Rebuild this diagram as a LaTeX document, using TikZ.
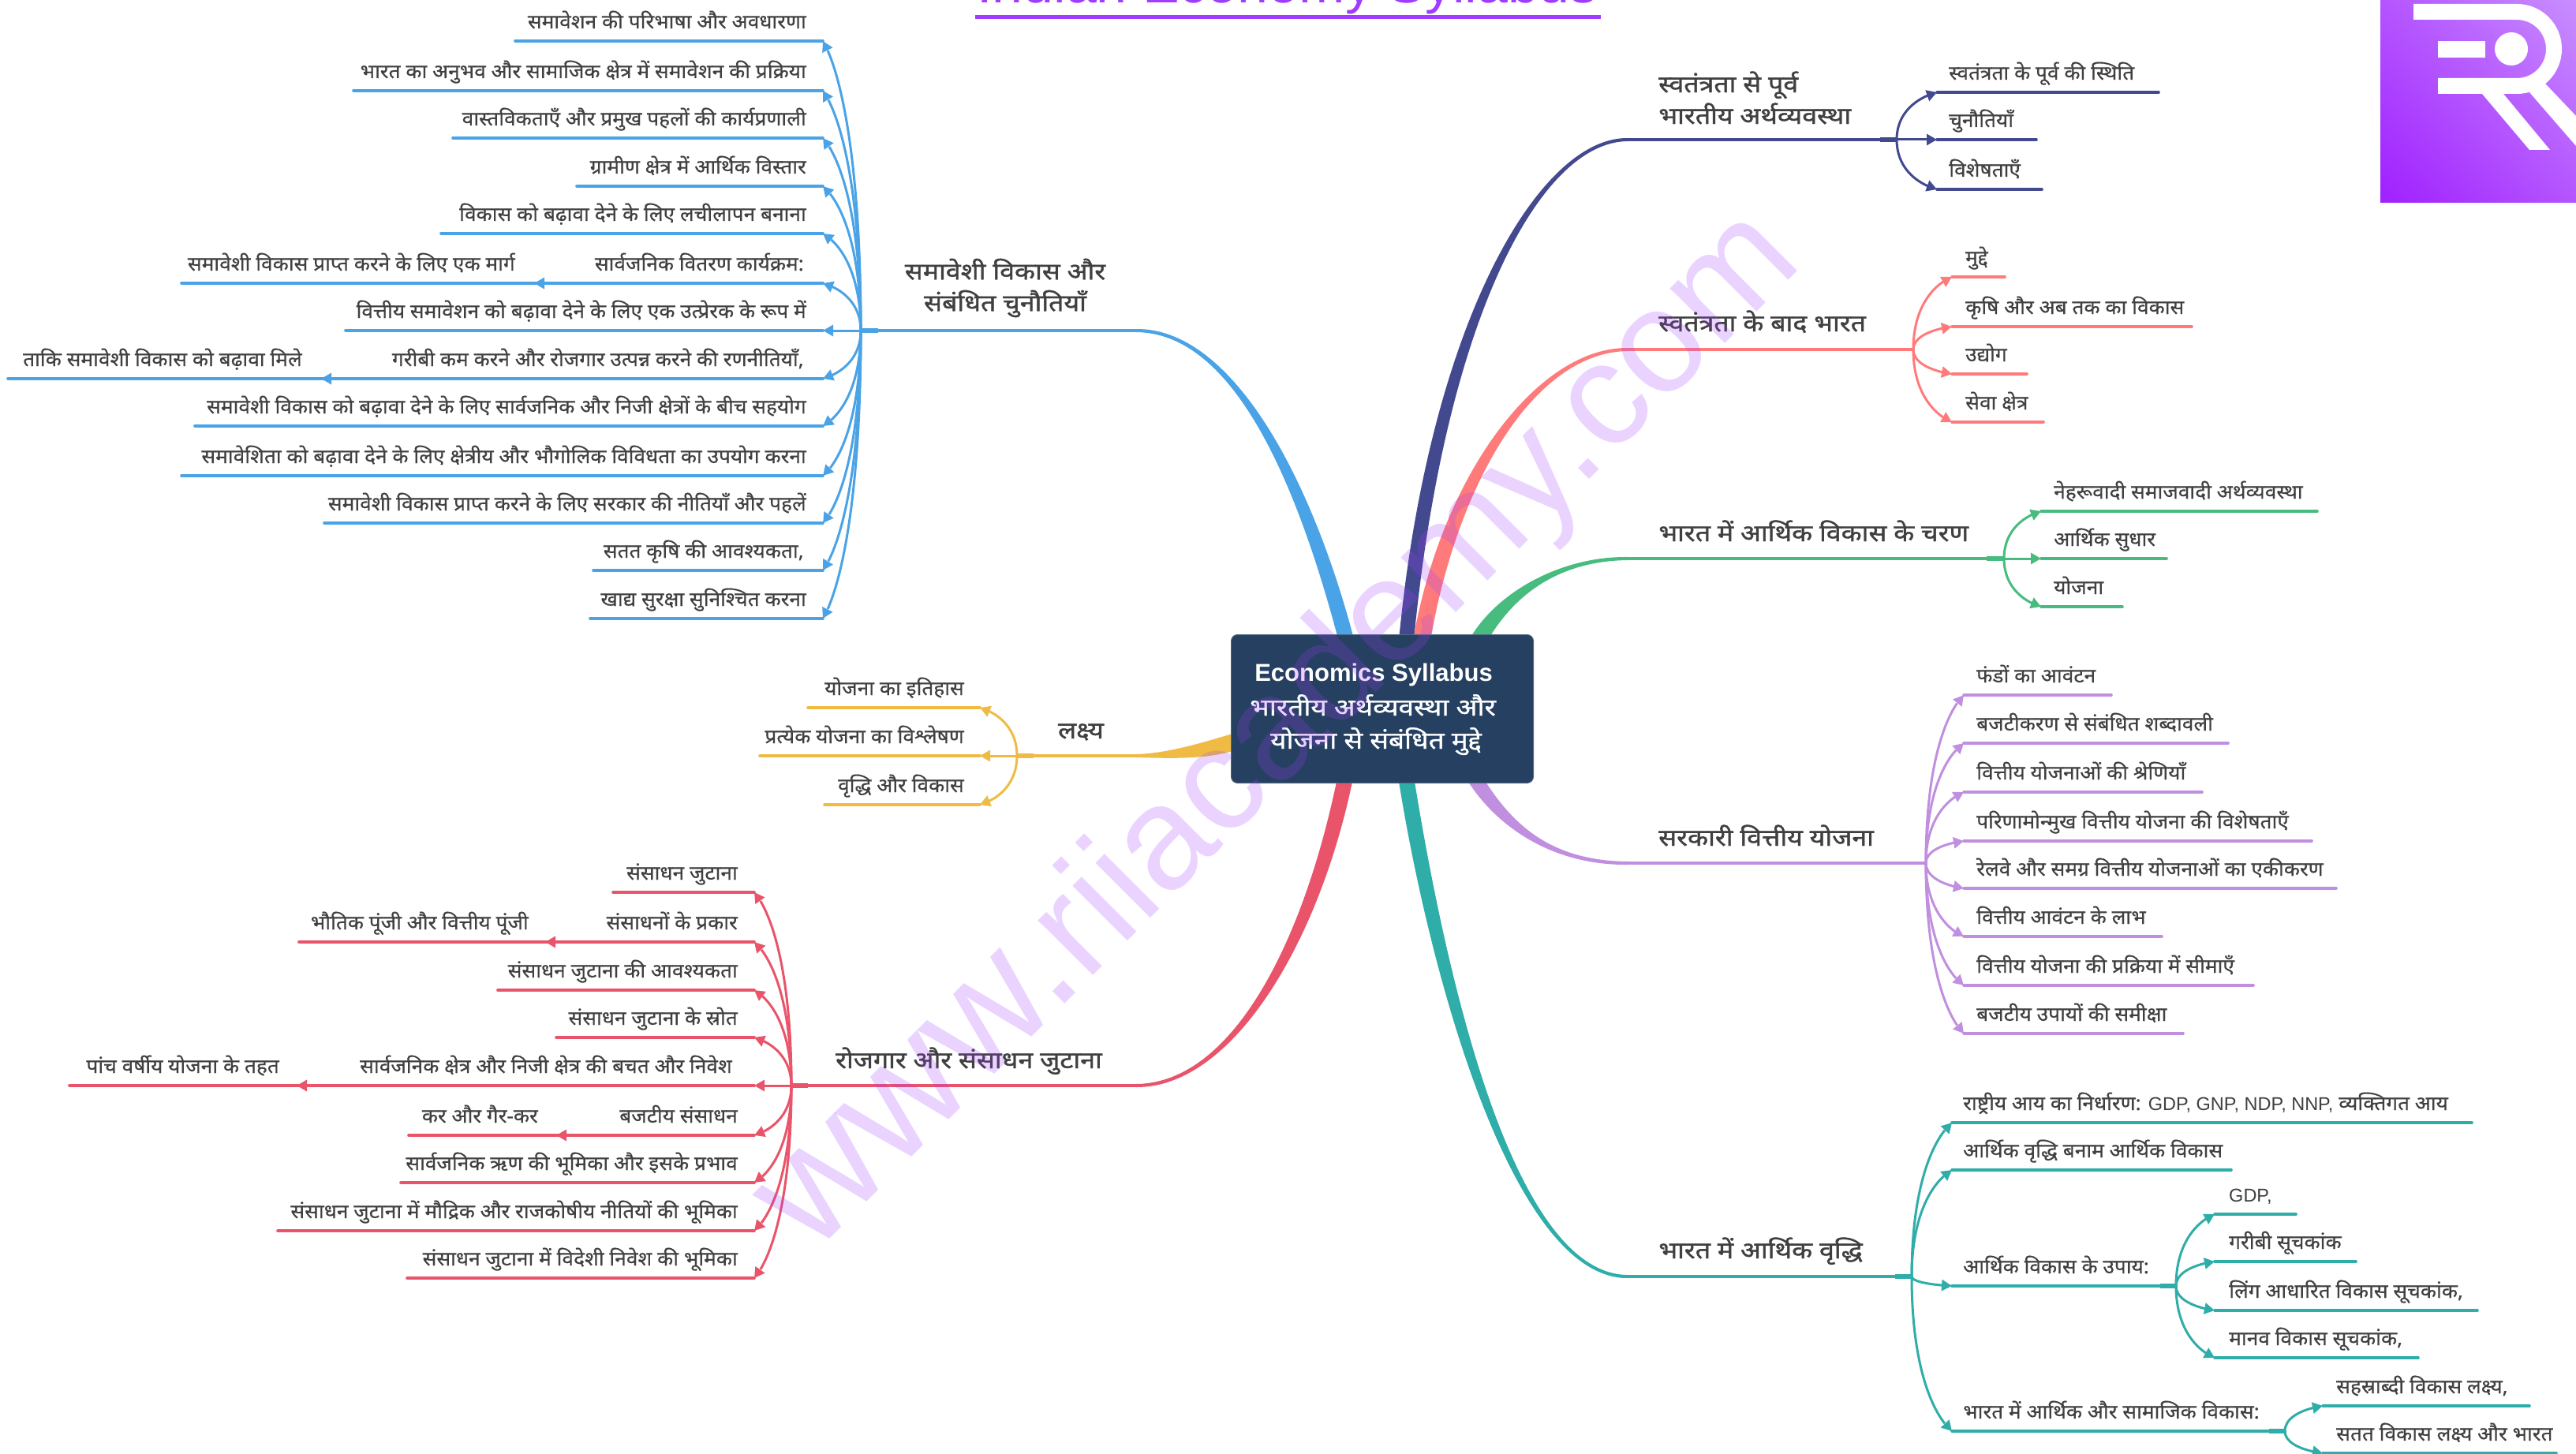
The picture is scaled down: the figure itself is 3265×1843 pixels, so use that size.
\documentclass[tikz,border=0pt]{standalone}
\usepackage{fontspec}
\setmainfont{Liberation Sans}
\newfontfamily\dev[Script=Devanagari,FakeStretch=1.05,FakeBold=0.4]{Noto Sans}
\newfontfamily\devb[Script=Devanagari,FakeStretch=1.15,FakeBold=1.3]{Noto Sans}
\newfontfamily\devc[Script=Devanagari,FakeStretch=1.17,FakeBold=1.0]{Noto Sans}
\newfontfamily\latf{Liberation Sans}
\newcommand\lat[1]{{\latf\fontsize{23.5}{28}\selectfont #1}}
\usetikzlibrary{calc,arrows.meta,bending,shadings}
\definecolor{cblue}{HTML}{4AA3E6}
\definecolor{cnavy}{HTML}{43498F}
\definecolor{ccoral}{HTML}{FF7B7B}
\definecolor{cgreen}{HTML}{48BB7E}
\definecolor{cpurple}{HTML}{C08FE0}
\definecolor{cteal}{HTML}{2FADA9}
\definecolor{cred}{HTML}{E9546A}
\definecolor{cyellow}{HTML}{EFBB45}
\definecolor{cbox}{HTML}{254060}
\definecolor{ctitle}{HTML}{A03CFF}
\definecolor{ctext}{HTML}{404040}
\definecolor{lgll}{HTML}{A020FF}
\definecolor{lgur}{HTML}{C88EFF}
\definecolor{lgm}{HTML}{B454FF}
\tikzset{
  x=1pt,y=-1pt,
  leaf/.style={inner sep=0pt,text=ctext,font=\dev\fontsize{25}{28}\selectfont},
  head/.style={inner sep=0pt,text=ctext,font=\devb\fontsize{29.5}{40}\selectfont,align=center},
  uline/.style={line width=3.6pt,draw=\cc,line cap=round},
  bar/.style={line width=5.5pt,draw=\cc},
  crv/.style={line width=3pt,draw=\cc,-{Triangle[length=13pt,width=14pt,flex=1]},fill=none},
  tipline/.style={line width=3.6pt,draw=\cc,-{Triangle[length=13pt,width=14pt]}},
}
% right-hand and left-hand leaves: colour in \cc
\newcommand\curve[2]{\draw[crv] (#1) let \p1=(#1),\p2=(#2),\n1={\x2-\x1},\n2={\y2-\y1} in .. controls (\x1,{\y1+0.6*\n2}) and ({\x1+0.55*\n1},{\y2-0.1*\n2}) .. (#2);}
% {hub}{name}{tipx}{endx}{y}{textx}{text}
\newcommand\rleaf[7]{%
  \coordinate (#2a) at (#3,#5); \coordinate (#2b) at (#4,#5);
  \node[leaf,anchor=base west] (#2) at (#6,#5-16) {#7};
  \draw[uline] (#2a) -- (#2b);
  \curve{#1}{#2a}}
\newcommand\lleaf[7]{%
  \coordinate (#2a) at (#3,#5); \coordinate (#2b) at (#4,#5);
  \node[leaf,anchor=base east] (#2) at (#6,#5-16) {#7};
  \draw[uline] (#2a) -- (#2b);
  \curve{#1}{#2a}}
% {parent}{name}{tipx}{endx}{y}{textright}{text}
\newcommand\lsub[7]{%
  \coordinate (#2a) at (#3,#5); \coordinate (#2b) at (#4,#5);
  \node[leaf,anchor=base east] (#2) at (#6,#5-16) {#7};
  \draw[tipline] (#1a) -- (#2a);
  \draw[uline] (#2a) -- (#2b);}
% {colour}{start}{c1}{c2}{end}{end offset}
\newcommand\trunk[6]{\fill[#1] ($(#2)+(0,-2)$) .. controls ($(#3)+(0,-3)$) and ($(#4)+#6$) .. ($(#5)+#6$) -- ($(#5)-#6$) .. controls ($(#4)-#6$) and ($(#3)+(0,3)$) .. ($(#2)+(0,2)$) -- cycle;}
\begin{document}
\begin{tikzpicture}
\clip (0,0) rectangle (3265,1843);
\fill[white] (0,0) rectangle (3265,1843);

% title
\node[inner sep=0pt,anchor=base west,text=ctitle,font=\fontsize{70}{70}\selectfont] (title) at (1238,4) {Indian Economy Syllabus};
\coordinate (tl) at (1236,22); \coordinate (tr) at (2029,22);
\draw[line width=5pt,ctitle] (tl) -- (tr);

% logo
\shade[shading=bilinear interpolation,lower left=lgll,upper right=lgur,upper left=lgm,lower right=lgm] (3017,0) rectangle (3265,257);
\begin{scope}[white]
\draw[line width=20pt] (3059,15) -- (3190,15) arc[start angle=-90,end angle=90,radius=47] -- (3090,109);
\fill (3090,52) rectangle (3150,73);
\fill (3183,62) circle[radius=21];
\fill (3146,119) -- (3173,119) -- (3232,190) -- (3206,190) -- cycle;
\fill (3226,106) -- (3206,117) -- (3265,185) -- (3265,147) -- cycle;
\end{scope}

% centre anchors of trunks
\coordinate (sblue) at (1440,419);
\coordinate (snavy) at (2063,177);
\coordinate (scoral) at (2063,443);
\coordinate (sgreen) at (2063,708);
\coordinate (spurple) at (2063,1094);
\coordinate (steal) at (2063,1618);
\coordinate (sred) at (1440,1376);
\coordinate (syellow) at (1440,958);

\trunk{cblue}{sblue}{1560,419}{1650,600}{1705,806}{(10,0)}
\trunk{cnavy}{snavy}{1950,177}{1822,410}{1783,806}{(-9.5,0)}
\trunk{ccoral}{scoral}{1950,443}{1840,600}{1803,806}{(-11,0)}
\trunk{cgreen}{sgreen}{1985,708}{1915,745}{1877,806}{(-12,0)}
\trunk{cpurple}{spurple}{1970,1094}{1910,1050}{1872,991}{(11,0)}
\trunk{cteal}{steal}{1920,1618}{1825,1250}{1783,991}{(10,0)}
\trunk{cred}{sred}{1560,1376}{1660,1200}{1704,991}{(-10,0)}
\trunk{cyellow}{syellow}{1480,958}{1525,952}{1562,941}{(0,-11)}

% ---------- blue
\def\cc{cblue}
\coordinate (hblue) at (1091,419);
\draw[uline] (sblue) -- (hblue);
\draw[bar] (1113,419) -- (hblue);
\lleaf{hblue}{b1}{1043}{653}{52}{1022}{समावेशन की परिभाषा और अवधारणा}
\lleaf{hblue}{b2}{1043}{448}{115}{1022}{भारत का अनुभव और सामाजिक क्षेत्र में समावेशन की प्रक्रिया}
\lleaf{hblue}{b3}{1043}{574}{175}{1022}{वास्तविकताएँ और प्रमुख पहलों की कार्यप्रणाली}
\lleaf{hblue}{b4}{1043}{731}{236}{1022}{ग्रामीण क्षेत्र में आर्थिक विस्तार}
\lleaf{hblue}{b5}{1043}{559}{296}{1022}{विकास को बढ़ावा देने के लिए लचीलापन बनाना}
\lleaf{hblue}{b6}{1043}{677}{359}{1019}{सार्वजनिक वितरण कार्यक्रम:}
\lsub{b6}{b6s}{677}{230}{359}{653}{समावेशी विकास प्राप्त करने के लिए एक मार्ग}
\lleaf{hblue}{b7}{1043}{438}{419}{1022}{वित्तीय समावेशन को बढ़ावा देने के लिए एक उत्प्रेरक के रूप में}
\lleaf{hblue}{b8}{1043}{407}{480}{1019}{गरीबी कम करने और रोजगार उत्पन्न करने की रणनीतियाँ,}
\lsub{b8}{b8s}{407}{10}{480}{383}{ताकि समावेशी विकास को बढ़ावा मिले}
\lleaf{hblue}{b9}{1043}{247}{540}{1022}{समावेशी विकास को बढ़ावा देने के लिए सार्वजनिक और निजी क्षेत्रों के बीच सहयोग}
\lleaf{hblue}{b10}{1043}{230}{603}{1022}{समावेशिता को बढ़ावा देने के लिए क्षेत्रीय और भौगोलिक विविधता का उपयोग करना}
\lleaf{hblue}{b11}{1043}{411}{663}{1022}{समावेशी विकास प्राप्त करने के लिए सरकार की नीतियाँ और पहलें}
\lleaf{hblue}{b12}{1043}{752}{723}{1019}{सतत कृषि की आवश्यकता,}
\lleaf{hblue}{b13}{1043}{748}{784}{1022}{खाद्य सुरक्षा सुनिश्चित करना}
\node[head] (hdblue) at (1274,365) {समावेशी विकास और\\संबंधित चुनौतियाँ};

% ---------- yellow
\def\cc{cyellow}
\coordinate (hyellow) at (1289,958);
\draw[uline] (syellow) -- (hyellow);
\draw[bar] (1310,958) -- (hyellow);
\lleaf{hyellow}{y1}{1242}{1024}{897}{1222}{योजना का इतिहास}
\lleaf{hyellow}{y2}{1242}{963}{958}{1222}{प्रत्येक योजना का विश्लेषण}
\lleaf{hyellow}{y3}{1242}{1045}{1020}{1222}{वृद्धि और विकास}
\node[head,anchor=base] (hdyellow) at (1370,936) {लक्ष्य};

% ---------- red
\def\cc{cred}
\coordinate (hred) at (1003,1376);
\draw[uline] (sred) -- (hred);
\draw[bar] (1024,1376) -- (hred);
\lleaf{hred}{r1}{956}{777}{1131}{935}{संसाधन जुटाना}
\lleaf{hred}{r2}{956}{691}{1194}{935}{संसाधनों के प्रकार}
\lsub{r2}{r2s}{691}{379}{1194}{670}{भौतिक पूंजी और वित्तीय पूंजी}
\lleaf{hred}{r3}{956}{631}{1255}{935}{संसाधन जुटाना की आवश्यकता}
\lleaf{hred}{r4}{956}{705}{1315}{935}{संसाधन जुटाना के स्रोत}
\lleaf{hred}{r5}{956}{376}{1376}{928}{सार्वजनिक क्षेत्र और निजी क्षेत्र की बचत और निवेश}
\lsub{r5}{r5s}{376}{88}{1376}{354}{पांच वर्षीय योजना के तहत}
\lleaf{hred}{r6}{956}{705}{1439}{935}{बजटीय संसाधन}
\lsub{r6}{r6s}{705}{518}{1439}{682}{कर और गैर-कर}
\lleaf{hred}{r7}{956}{508}{1499}{935}{सार्वजनिक ऋण की भूमिका और इसके प्रभाव}
\lleaf{hred}{r8}{956}{352}{1560}{935}{संसाधन जुटाना में मौद्रिक और राजकोषीय नीतियों की भूमिका}
\lleaf{hred}{r9}{956}{516}{1620}{935}{संसाधन जुटाना में विदेशी निवेश की भूमिका}
\node[head,anchor=base east] (hdred) at (1397,1354) {रोजगार और संसाधन जुटाना};

% ---------- navy
\def\cc{cnavy}
\coordinate (hnavy) at (2404,177);
\draw[uline] (snavy) -- (hnavy);
\draw[bar] (2383,177) -- (hnavy);
\rleaf{hnavy}{n1}{2455}{2736}{117}{2470}{स्वतंत्रता के पूर्व की स्थिति}
\rleaf{hnavy}{n2}{2455}{2581}{177}{2470}{चुनौतियाँ}
\rleaf{hnavy}{n3}{2455}{2588}{240}{2470}{विशेषताएँ}
\node[head,anchor=west,align=left] (hdnavy) at (2102,124) {स्वतंत्रता से पूर्व\\भारतीय अर्थव्यवस्था};

% ---------- coral
\def\cc{ccoral}
\coordinate (hcoral) at (2425,443);
\draw[uline] (scoral) -- (hcoral);
\rleaf{hcoral}{c1}{2474}{2541}{351}{2491}{मुद्दे}
\rleaf{hcoral}{c2}{2474}{2778}{414}{2491}{कृषि और अब तक का विकास}
\rleaf{hcoral}{c3}{2474}{2569}{474}{2491}{उद्योग}
\rleaf{hcoral}{c4}{2474}{2590}{535}{2491}{सेवा क्षेत्र}
\node[head,anchor=base west] (hdcoral) at (2102,420) {स्वतंत्रता के बाद भारत};

% ---------- green
\def\cc{cgreen}
\coordinate (hgreen) at (2540,708);
\draw[uline] (sgreen) -- (hgreen);
\draw[bar] (2518,708) -- (hgreen);
\rleaf{hgreen}{g1}{2587}{2937}{648}{2603}{नेहरूवादी समाजवादी अर्थव्यवस्था}
\rleaf{hgreen}{g2}{2587}{2746}{708}{2603}{आर्थिक सुधार}
\rleaf{hgreen}{g3}{2587}{2690}{769}{2603}{योजना}
\node[head,anchor=base west] (hdgreen) at (2102,686) {भारत में आर्थिक विकास के चरण};

% ---------- purple
\def\cc{cpurple}
\coordinate (hpurple) at (2441,1094);
\draw[uline] (spurple) -- (hpurple);
\rleaf{hpurple}{p1}{2489}{2676}{881}{2505}{फंडों का आवंटन}
\rleaf{hpurple}{p2}{2489}{2824}{942}{2505}{बजटीकरण से संबंधित शब्दावली}
\rleaf{hpurple}{p3}{2489}{2791}{1004}{2505}{वित्तीय योजनाओं की श्रेणियाँ}
\rleaf{hpurple}{p4}{2489}{2930}{1066}{2505}{परिणामोन्मुख वित्तीय योजना की विशेषताएँ}
\rleaf{hpurple}{p5}{2489}{2961}{1126}{2505}{रेलवे और समग्र वित्तीय योजनाओं का एकीकरण}
\rleaf{hpurple}{p6}{2489}{2740}{1187}{2505}{वित्तीय आवंटन के लाभ}
\rleaf{hpurple}{p7}{2489}{2856}{1249}{2505}{वित्तीय योजना की प्रक्रिया में सीमाएँ}
\rleaf{hpurple}{p8}{2489}{2767}{1310}{2505}{बजटीय उपायों की समीक्षा}
\node[head,anchor=base west] (hdpurple) at (2102,1072) {सरकारी वित्तीय योजना};

% ---------- teal
\def\cc{cteal}
\coordinate (hteal) at (2423,1618);
\draw[uline] (steal) -- (hteal);
\draw[bar] (2402,1618) -- (hteal);
\rleaf{hteal}{t1}{2474}{3133}{1423}{2488}{राष्ट्रीय आय का निर्धारण: \lat{GDP, GNP, NDP, NNP,} व्यक्तिगत आय}
\rleaf{hteal}{t2}{2474}{2828}{1483}{2488}{आर्थिक वृद्धि बनाम आर्थिक विकास}
\rleaf{hteal}{t3}{2474}{2758}{1630}{2488}{आर्थिक विकास के उपाय:}
\rleaf{hteal}{t4}{2474}{2896}{1814}{2488}{भारत में आर्थिक और सामाजिक विकास:}
\coordinate (htb) at (2758,1630);
\coordinate (htc) at (2896,1814);
\draw[bar] (2738,1630) -- (htb);
\draw[bar] (2876,1814) -- (htc);
\rleaf{htb}{u1}{2807}{2910}{1539}{2825}{\lat{GDP,}}
\rleaf{htb}{u2}{2807}{2986}{1599}{2825}{गरीबी सूचकांक}
\rleaf{htb}{u3}{2807}{3140}{1661}{2825}{लिंग आधारित विकास सूचकांक,}
\rleaf{htb}{u4}{2807}{3065}{1721}{2825}{मानव विकास सूचकांक,}
\rleaf{htc}{v1}{2944}{3206}{1782}{2961}{सहस्राब्दी विकास लक्ष्य,}
\rleaf{htc}{v2}{2944}{3240}{1842}{2961}{सतत विकास लक्ष्य और भारत}
\node[head,anchor=base west] (hdteal) at (2102,1595) {भारत में आर्थिक वृद्धि};

% ---------- centre
\node[draw=cbox!80!white,line width=1pt,fill=cbox,rounded corners=8pt,minimum width=383pt,minimum height=188pt,inner sep=0pt] (center) at (1752,898.5) {};
\node[inner sep=0pt,text=white,anchor=base,font=\bfseries\fontsize{31}{31}\selectfont] (ctitle1) at (1741,863) {Economics Syllabus};
\node[inner sep=0pt,text=white,anchor=base,font=\devc\fontsize{30}{30}\selectfont] (ctitle2) at (1740,907) {भारतीय अर्थव्यवस्था और};
\node[inner sep=0pt,text=white,anchor=base,font=\devc\fontsize{30}{30}\selectfont] (ctitle3) at (1744,949) {योजना से संबंधित मुद्दे};

% watermark
\node[inner sep=0pt,anchor=base west,rotate=45,text=ctitle,text opacity=0.22] (wm) at (1030,1592) {\fontsize{205}{205}\selectfont www.\fontsize{186}{186}\selectfont riiacademy.com};
\end{tikzpicture}
\end{document}
